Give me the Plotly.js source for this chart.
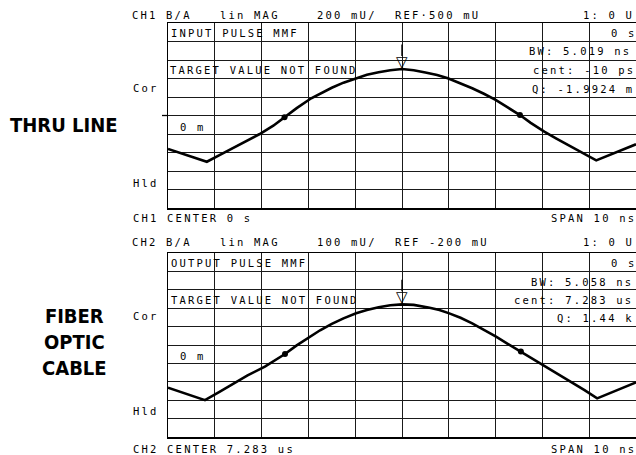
<!DOCTYPE html>
<html>
<head>
<meta charset="utf-8">
<script src="https://cdn.plot.ly/plotly-3.0.1.min.js"></script>
<style>
  html, body { margin: 0; padding: 0; background: #fff; }
  #chart { width: 636px; height: 455px; }
  text.annotation-text[style*="Mono"] { letter-spacing: 2.2px; }
</style>
</head>
<body>
<div id="chart"></div>
<script>
// ---- Data (time offset from centre in ns, magnitude in mU) ----
const ch1TimeNs = [-5.0, -4.17, -3.9, -3.6, -3.3, -3.04, -2.75, -2.51, -2.25, -1.94, -1.7, -1.5, -1.25, -0.98, -0.75, -0.5, -0.25, 0,
                   0.25, 0.5, 0.75, 0.98, 1.25, 1.5, 1.75, 2.0, 2.25, 2.52, 2.75, 3.04, 3.3, 3.6, 3.9, 4.15, 5.0];
const ch1MagmU  = [138, 0, 72, 149, 225, 300, 390, 481, 580, 686, 750, 800, 855, 902, 940, 968, 990, 1003,
                   990, 965, 938, 902, 850, 795, 735, 668, 590, 505, 420, 325, 250, 170, 85, 15, 189];

const ch2TimeNs = [-5.0, -4.21, -3.9, -3.6, -3.3, -2.93, -2.7, -2.5, -2.25, -1.97, -1.75, -1.5, -1.25, -0.98, -0.75, -0.5, -0.25, 0,
                   0.25, 0.59, 0.8, 1.01, 1.25, 1.5, 1.75, 2.01, 2.25, 2.54, 3.0, 3.3, 3.6, 3.9, 4.17, 5.0];
const ch2MagmU  = [68, 0, 45, 90, 135, 182, 218, 251, 298, 345, 380, 415, 445, 472, 490, 505, 516, 521,
                   518, 503, 490, 472, 448, 418, 383, 345, 308, 264, 195, 150, 100, 55, 10, 97];

// BW marker points (small dots)
const ch1BwMarkerTimeNs = [-2.51, 2.52];
const ch1BwMarkerMagmU  = [481, 505];
const ch2BwMarkerTimeNs = [-2.5, 2.54];
const ch2BwMarkerMagmU  = [251, 264];

// Marker 1 (peak, drawn with the ▽ symbol)
const marker1TimeNs = [0, 0];        // ch1, ch2
const marker1MagmU  = [1003, 521];   // ch1, ch2

// Scale settings shown on screen
const ch1Ref = 500, ch1PerDiv = 200, ch1RefDivFromBottom = 5;
const ch2Ref = -200, ch2PerDiv = 100, ch2RefDivFromBottom = 0;
const spanNs = 10, nDiv = 10;

// ---- Layout helpers ----
const W = 636, H = 455, L = 168;
const px2x = p => (p - L) / (W - L);
const py2y = p => 1 - p / H;
const MONO = 'DejaVu Sans Mono, monospace';

const anns = [];
function txt(text, px, py, extra) {
  anns.push(Object.assign({
    text: text, xref: 'paper', yref: 'paper', x: px2x(px), y: py2y(py),
    xanchor: 'left', yanchor: 'middle', showarrow: false,
    borderpad: 0, borderwidth: 0,
    font: {family: MONO, size: 10.5, color: '#000'}
  }, extra || {}));
}

// Channel 1 texts
txt('CH1 B/A', 132, 15);
txt('lin MAG', 220, 15);
txt('200 mU/', 317, 15);
txt('REF·500 mU', 395, 15);
txt('1: 0 U', 583, 15);
txt('INPUT PULSE MMF', 171, 33);
txt('0 s', 611, 33);
txt('BW: 5.019 ns', 529, 51);
txt('TARGET VALUE NOT FOUND', 170, 70);
txt('cent: -10 ps', 533, 70);
txt('Q: -1.9924 m', 532, 89);
txt('Cor', 133, 88);
txt('0 m', 180, 127);
txt('Hld', 133, 183);
txt('CH1 CENTER 0 s', 133, 218);
txt('SPAN 10 ns', 551, 218);

// Channel 2 texts
txt('CH2 B/A', 132, 242);
txt('lin MAG', 220, 242);
txt('100 mU/', 317, 242);
txt('REF -200 mU', 395, 242);
txt('1: 0 U', 583, 242);
txt('OUTPUT PULSE MMF', 171, 263);
txt('0 s', 611, 263);
txt('BW: 5.058 ns', 531, 282);
txt('TARGET VALUE NOT FOUND', 171, 300);
txt('cent: 7.283 us', 514, 300);
txt('Q: 1.44 k', 557, 318);
txt('Cor', 133, 316);
txt('0 m', 180, 356);
txt('Hld', 133, 411);
txt('CH2 CENTER 7.283 us', 133, 449);
txt('SPAN 10 ns', 551, 449);

// Big side labels
const BIG = {family: 'DejaVu Sans Condensed, DejaVu Sans, sans-serif', size: 20, color: '#000', weight: 'bold'};
txt('<b>THRU LINE</b>', 64, 125, {xanchor: 'center', font: BIG});
txt('<b>FIBER<br>OPTIC<br>CABLE</b>', 74, 342, {xanchor: 'center', align: 'center', font: BIG});

// Marker 1 symbols (anchored to the data point)
[['x', 'y'], ['x2', 'y2']].forEach((r, i) => {
  anns.push({xref: r[0], yref: r[1], x: marker1TimeNs[i], y: marker1MagmU[i], text: '▽',
    showarrow: false, xanchor: 'center', yanchor: 'bottom', yshift: -3, borderpad: 0,
    font: {family: 'DejaVu Sans, sans-serif', size: 15, color: '#000'}});
  anns.push({xref: r[0], yref: r[1], x: marker1TimeNs[i], y: marker1MagmU[i], text: '',
    showarrow: true, arrowhead: 0, arrowwidth: 1.4, arrowcolor: '#000',
    ax: 0, ay: -26, standoff: 13});
});

const lineStyle = {color: '#000', width: 2.6};
const data = [
  {x: ch1TimeNs, y: ch1MagmU, xaxis: 'x', yaxis: 'y', mode: 'lines', line: lineStyle, hoverinfo: 'skip'},
  {x: ch2TimeNs, y: ch2MagmU, xaxis: 'x2', yaxis: 'y2', mode: 'lines', line: lineStyle, hoverinfo: 'skip'},
  {x: ch1BwMarkerTimeNs, y: ch1BwMarkerMagmU, xaxis: 'x', yaxis: 'y', mode: 'markers',
   marker: {color: '#000', size: 6, symbol: 'circle'}},
  {x: ch2BwMarkerTimeNs, y: ch2BwMarkerMagmU, xaxis: 'x2', yaxis: 'y2', mode: 'markers',
   marker: {color: '#000', size: 6, symbol: 'circle'}}
];

function xAx(anchor) {
  return {anchor: anchor, domain: [0, 1], range: [-spanNs / 2, spanNs / 2], dtick: spanNs / nDiv, tick0: 0,
    showticklabels: false, ticks: '', showgrid: true, gridcolor: '#1a1a1a', gridwidth: 1,
    zeroline: false, showline: true, mirror: true, linecolor: '#000', linewidth: 1.5, fixedrange: true};
}
function yAx(anchor, dom, ref, perDiv, refDiv) {
  const lo = ref - refDiv * perDiv;
  return {anchor: anchor, domain: dom, range: [lo, lo + nDiv * perDiv], dtick: perDiv, tick0: ref,
    showticklabels: false, ticks: '', showgrid: true, gridcolor: '#1a1a1a', gridwidth: 1,
    zeroline: false, showline: true, mirror: true, linecolor: '#000', linewidth: 1.5, fixedrange: true};
}

const layout = {
  width: W, height: H,
  margin: {l: L, r: 0, t: 0, b: 0, pad: 0},
  paper_bgcolor: '#fff', plot_bgcolor: '#fff',
  showlegend: false,
  xaxis: xAx('y'),
  yaxis: yAx('x', [py2y(208), py2y(23)], ch1Ref, ch1PerDiv, ch1RefDivFromBottom),
  xaxis2: xAx('y2'),
  yaxis2: yAx('x2', [py2y(437), py2y(253)], ch2Ref, ch2PerDiv, ch2RefDivFromBottom),
  shapes: [
    // reference position tick left of CH1 grid
    {type: 'line', xref: 'paper', yref: 'y', x0: px2x(162), x1: 0, y0: ch1Ref, y1: ch1Ref,
     line: {color: '#000', width: 1.3}}
  ],
  annotations: anns
};

Plotly.newPlot('chart', data, layout, {staticPlot: true, displayModeBar: false});
</script>
</body>
</html>
